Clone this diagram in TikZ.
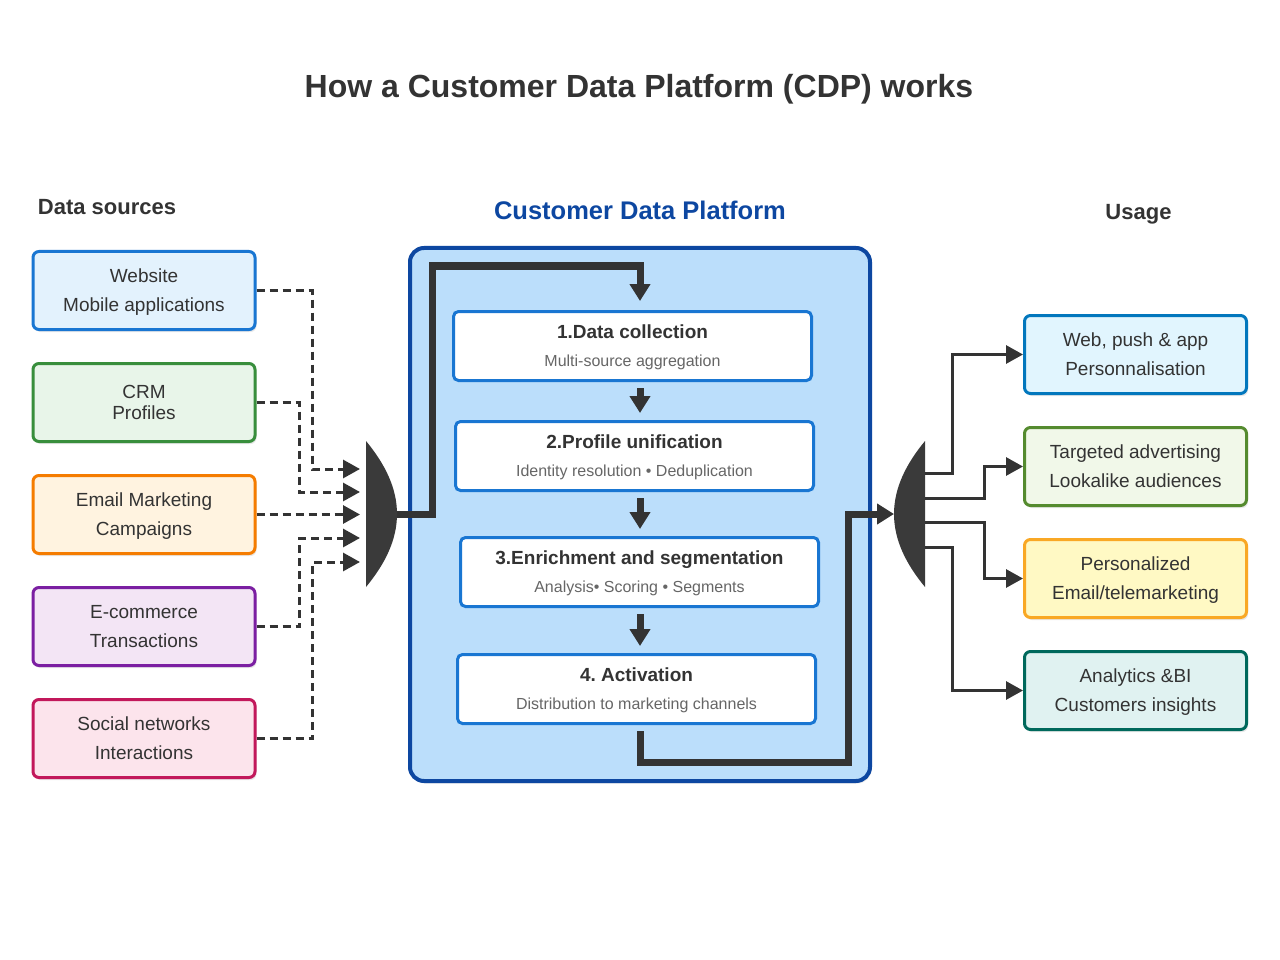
\documentclass[tikz,border=0pt]{standalone}
\usepackage{fontspec}
\setmainfont{Liberation Sans}
\frenchspacing
\usetikzlibrary{positioning, arrows.meta, shadows}

\definecolor{ink}{HTML}{333333}
\definecolor{subgray}{HTML}{666666}
\definecolor{hubgray}{HTML}{3A3A3A}
\definecolor{cdpblue}{HTML}{0D47A1}
\definecolor{cdpfill}{HTML}{BBDEFB}
\definecolor{stepblue}{HTML}{1976D2}
\definecolor{srcblue}{HTML}{1976D2}   \definecolor{srcbluebg}{HTML}{E3F2FD}
\definecolor{srcgreen}{HTML}{388E3C}  \definecolor{srcgreenbg}{HTML}{E8F5E9}
\definecolor{srcorange}{HTML}{F57C00} \definecolor{srcorangebg}{HTML}{FFF3E0}
\definecolor{srcpurple}{HTML}{7B1FA2} \definecolor{srcpurplebg}{HTML}{F3E5F5}
\definecolor{srcpink}{HTML}{C2185B}   \definecolor{srcpinkbg}{HTML}{FCE4EC}
\definecolor{useblue}{HTML}{0277BD}   \definecolor{usebluebg}{HTML}{E1F5FE}
\definecolor{usegreen}{HTML}{558B2F}  \definecolor{usegreenbg}{HTML}{F1F8E9}
\definecolor{useamber}{HTML}{F9A825}  \definecolor{useamberbg}{HTML}{FFF9C4}
\definecolor{useteal}{HTML}{00695C}   \definecolor{usetealbg}{HTML}{E0F2F1}

\begin{document}
\begin{tikzpicture}[
    x=1pt, y=-1pt, >={Triangle[length=17pt, width=18pt]},
    box/.style={draw, rounded corners=6pt, line width=3pt, minimum width=222pt, minimum height=78pt,
        align=center, text=ink, font=\fontsize{19}{29}\selectfont, text depth=-1pt,
        drop shadow={shadow xshift=1.5pt, shadow yshift=-2.5pt, opacity=0.18}},
    stepbox/.style={draw=stepblue, fill=white, rounded corners=5pt, line width=3pt, minimum width=358pt,
        minimum height=69pt, align=center, text=ink, font=\fontsize{19}{28}\selectfont\bfseries,
        text depth=-2pt},
    heading/.style={font=\fontsize{22}{26}\selectfont\bfseries, text=ink},
    feed/.style={draw=ink, line width=3pt, dash pattern=on 8pt off 5pt},
    fanout/.style={draw=ink, line width=3pt},
    flow/.style={draw=ink, line width=7pt, -{Triangle[length=17pt, width=20pt]}}
]

% -------------------------
% Hub Shape Definition
% -------------------------
\tikzset{
    hub/.pic={
        \coordinate (-mid) at (0, 0);
        \coordinate (-tip) at (31, 0);
        \fill[hubgray] (0, -73) .. controls (19, -50) and (31, -26) .. (31, 0)
            .. controls (31, 26) and (19, 50) .. (0, 73) -- cycle; % Dish
    }
}

\fill[white] (0, 0) rectangle (1280, 960);
\useasboundingbox (0, 0) rectangle (1280, 960);

% -------------------------
% Titles
% -------------------------
\node[font=\fontsize{32}{38}\selectfont\bfseries, text=ink] (Title) at (639, 89) {How a Customer Data Platform (CDP) works};
\node[heading] (SrcHead) at (107, 207) {Data sources};
\node[heading, text=cdpblue, font=\fontsize{25.5}{30}\selectfont\bfseries] (CDPHead) at (640, 210) {Customer Data Platform};
\node[heading] (UseHead) at (1138.5, 214.5) {Usage};

% -------------------------
% Platform Envelope
% -------------------------
\node[draw=cdpblue, fill=cdpfill, line width=4pt, rounded corners=14pt, minimum width=460pt, minimum height=533pt,
    drop shadow={shadow xshift=1.5pt, shadow yshift=-2.5pt, opacity=0.18}] (CDP) at (640, 514.5) {};

% -------------------------
% Platform Steps
% -------------------------
\node[stepbox] (Step1) at (632.5, 346) {1.Data collection\\{\mdseries\color{subgray}\fontsize{16}{28}\selectfont Multi-source aggregation}};
\node[stepbox] (Step2) at (634.5, 456) {2.Profile unification\\{\mdseries\color{subgray}\fontsize{16}{28}\selectfont Identity resolution • Deduplication}};
\node[stepbox] (Step3) at (639.5, 572) {3.Enrichment and segmentation\\{\mdseries\color{subgray}\fontsize{16}{28}\selectfont Analysis• Scoring • Segments}};
\node[stepbox] (Step4) at (636.5, 689) {4. Activation\\{\mdseries\color{subgray}\fontsize{16}{28}\selectfont Distribution to marketing channels}};

% -------------------------
% Data Sources (Left Column)
% -------------------------
\node[box, draw=srcblue, fill=srcbluebg] (Src1) at (144, 290.5) {Website\\Mobile applications};
\node[box, draw=srcgreen, fill=srcgreenbg, font=\fontsize{19}{21}\selectfont] (Src2) at (144, 402.5) {CRM\\Profiles};
\node[box, draw=srcorange, fill=srcorangebg] (Src3) at (144, 514.5) {Email Marketing\\Campaigns};
\node[box, draw=srcpurple, fill=srcpurplebg] (Src4) at (144, 626.5) {E-commerce\\Transactions};
\node[box, draw=srcpink, fill=srcpinkbg] (Src5) at (144, 738.5) {Social networks\\Interactions};

% -------------------------
% Usage (Right Column)
% -------------------------
\node[box, draw=useblue, fill=usebluebg] (Use1) at (1135.5, 354.5) {Web, push \& app\\Personnalisation};
\node[box, draw=usegreen, fill=usegreenbg] (Use2) at (1135.5, 466.5) {Targeted advertising\\Lookalike audiences};
\node[box, draw=useamber, fill=useamberbg] (Use3) at (1135.5, 578.5) {Personalized\\Email/telemarketing};
\node[box, draw=useteal, fill=usetealbg] (Use4) at (1135.5, 690.5) {Analytics \&BI\\Customers insights};

% -------------------------
% Hubs
% -------------------------
\pic (HubIn) at (366, 514) {hub};
\pic[xscale=-1] (HubOut) at (925, 514) {hub};

\coordinate (In1) at (360, 469);
\coordinate (In2) at (360, 492);
\coordinate (In3) at (360, 514.5);
\coordinate (In4) at (360, 538);
\coordinate (In5) at (360, 562);

\coordinate (Out1) at (925, 473);
\coordinate (Out2) at (925, 498);
\coordinate (Out3) at (925, 522);
\coordinate (Out4) at (925, 547);

\coordinate (LoopIn) at (432, 266);
\coordinate (LoopOut) at (848, 514);

% -------------------------
% Source Feeds (dashed)
% -------------------------
\draw[feed, ->] (Src1.east) -- ++(56, 0) |- (In1);
\draw[feed, ->] (Src2.east) -- ++(43, 0) |- (In2);
\draw[feed, ->] (Src3.east) -- (In3);
\draw[feed, ->] (Src4.east) -- ++(43, 0) |- (In4);
\draw[feed, ->] (Src5.east) -- ++(56, 0) |- (In5);

% -------------------------
% Platform Flow
% -------------------------
\draw[flow, shorten >=9pt] (HubIn-tip) -| (LoopIn) -| (Step1.north -| CDP.center);
\draw[flow, shorten <=6pt, shorten >=7pt] (Step1.south -| CDP.center) -- (Step2.north -| CDP.center);
\draw[flow, shorten <=6pt, shorten >=7pt] (Step2.south -| CDP.center) -- (Step3.north -| CDP.center);
\draw[flow, shorten <=6pt, shorten >=7pt] (Step3.south -| CDP.center) -- (Step4.north -| CDP.center);
\draw[flow, shorten <=6pt] (Step4.south -| CDP.center) -- ++(0, 37) -| (LoopOut) -- (HubOut-tip);

% -------------------------
% Usage Links
% -------------------------
\draw[fanout, ->] (Out1) -- ++(27, 0) |- (Use1.west);
\draw[fanout, ->] (Out2) -- ++(59, 0) |- (Use2.west);
\draw[fanout, ->] (Out3) -- ++(59, 0) |- (Use3.west);
\draw[fanout, ->] (Out4) -- ++(27, 0) |- (Use4.west);

\end{tikzpicture}
\end{document}
